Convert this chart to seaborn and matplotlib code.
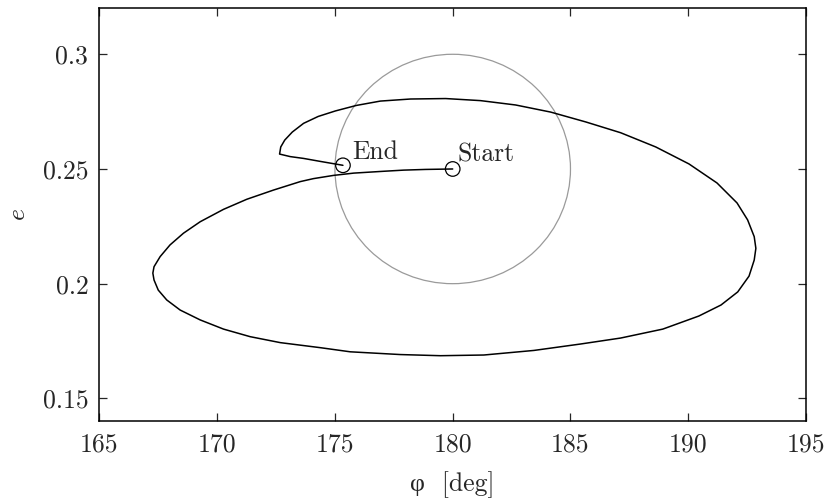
import matplotlib
matplotlib.use("Agg")
import matplotlib.pyplot as plt
from matplotlib.patches import Ellipse
import pandas as pd
import seaborn as sns

# Trajectory in the (phi, e) plane, from Start to End
phi = [180.00, 178.84, 177.92, 177.07, 175.80, 174.94, 174.09, 173.53, 172.39,
       171.26, 170.27, 169.28, 168.57, 168.00, 167.58, 167.32, 167.27, 167.32,
       167.50, 167.86, 168.43, 169.28, 170.27, 171.40, 172.68, 174.38, 175.65,
       177.78, 179.48, 181.32, 183.45, 185.43, 187.13, 188.92, 190.45, 191.39,
       192.10, 192.58, 192.80, 192.87, 192.80, 192.52, 192.07, 191.22, 190.03,
       188.62, 187.13, 185.65, 184.16, 182.67, 181.18, 179.70, 178.21, 176.93,
       175.91, 175.02, 174.29, 173.67, 173.19, 172.87, 172.70, 172.65, 173.10,
       173.67, 174.38, 175.34]
ecc = [0.2500, 0.2498, 0.2495, 0.2490, 0.2482, 0.2472, 0.2458, 0.2445, 0.2408,
       0.2368, 0.2324, 0.2270, 0.2220, 0.2169, 0.2118, 0.2074, 0.2046, 0.2016,
       0.1972, 0.1929, 0.1885, 0.1842, 0.1802, 0.1769, 0.1743, 0.1721, 0.1703,
       0.1691, 0.1686, 0.1689, 0.1709, 0.1737, 0.1763, 0.1802, 0.1859, 0.1907,
       0.1964, 0.2033, 0.2103, 0.2154, 0.2205, 0.2278, 0.2352, 0.2439, 0.2522,
       0.2596, 0.2658, 0.2705, 0.2748, 0.2779, 0.2798, 0.2807, 0.2805, 0.2796,
       0.2777, 0.2753, 0.2729, 0.2699, 0.2661, 0.2626, 0.2596, 0.2565, 0.2554,
       0.2546, 0.2533, 0.2516]

# Endpoints and their labels
marker_phi = [180.00, 175.34]
marker_e = [0.2500, 0.2516]
marker_text = ["Start", "End"]

# Tolerance region around the starting point
region_center = (180.0, 0.25)
region_radius_phi = 5.0
region_radius_e = 0.05

x_ticks = [165, 170, 175, 180, 185, 190, 195]
y_ticks = [0.15, 0.2, 0.25, 0.3]
y_tick_labels = ["0.15", "0.2", "0.25", "0.3"]

sns.set_style("ticks")
plt.rcParams["font.family"] = "serif"
plt.rcParams["font.serif"] = ["cmr10", "DejaVu Serif"]
plt.rcParams["mathtext.fontset"] = "cm"
plt.rcParams["axes.formatter.use_mathtext"] = True

FS = 18.5

fig = plt.figure(figsize=(8.24, 5.03), dpi=100)
ax = fig.add_axes([0.1206, 0.1624, 0.8576, 0.8209])

ax.add_patch(Ellipse(region_center, 2 * region_radius_phi, 2 * region_radius_e,
                     fill=False, edgecolor="#9a9a9a", linewidth=0.9, zorder=1))

traj = pd.DataFrame({"phi": phi, "e": ecc})
sns.lineplot(data=traj, x="phi", y="e", sort=False, estimator=None,
             color="black", linewidth=1.1, ax=ax, zorder=2)

ends = pd.DataFrame({"phi": marker_phi, "e": marker_e})
sns.scatterplot(data=ends, x="phi", y="e", s=110, facecolor="none",
                edgecolor="black", linewidth=0.9, ax=ax, zorder=3)

offsets = {"Start": (0.2, 0.0032), "End": (0.39, 0.0029)}
for px, py, t in zip(marker_phi, marker_e, marker_text):
    dx, dy = offsets[t]
    ax.text(px + dx, py + dy, t, fontsize=FS, va="baseline", ha="left")

ax.set_xlim(165, 195)
ax.set_ylim(0.14, 0.32)
ax.set_xticks(x_ticks)
ax.set_xticklabels([str(v) for v in x_ticks])
ax.set_yticks(y_ticks)
ax.set_yticklabels(y_tick_labels)
ax.tick_params(direction="in", length=6, width=0.9, top=True, right=True,
               labelsize=FS, pad=8)
for s in ax.spines.values():
    s.set_linewidth(1.1)
    s.set_color("black")

ax.set_xlabel("φ  [deg]", fontsize=FS, labelpad=11,
              fontfamily=["cmr10", "Liberation Serif"])
ax.set_ylabel(r"$e$", fontsize=FS, labelpad=9)

fig.savefig("out.png", dpi=100)
